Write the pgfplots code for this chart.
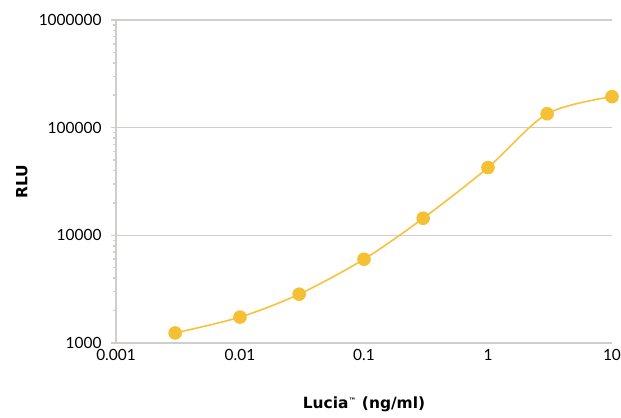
\documentclass[border=0pt]{standalone}
\usepackage{pgfplots}
\pgfplotsset{compat=1.18}
\usepackage{fontspec}
\setmainfont{Lato}
\newfontfamily\labelfont{DejaVu Sans}
\definecolor{dotc}{HTML}{F6C034}
\definecolor{linec}{HTML}{F7C23C}
\definecolor{gridc}{HTML}{D0CDCB}
\begin{document}
\begin{tikzpicture}
\useasboundingbox (-116bp,-75bp) rectangle (505bp,343bp);
\begin{axis}[
    xmode=log, ymode=log,
    scale only axis,
    width=496bp, height=323bp,
    xmin=0.001, xmax=10,
    ymin=1000, ymax=1000000,
    xtick={0.001,0.01,0.1,1,10},
    xticklabels={0.001,0.01,0.1,1,10},
    ytick={1000,10000,100000,1000000},
    yticklabels={1000,10000,100000,1000000},
    minor tick num=0,
    axis x line*=bottom, axis y line*=left,
    axis line style={gridc, line width=1.5pt, -},
    ymajorgrids=true,
    grid style={gridc, line width=1.5pt},
    major tick length=5bp,
    tick style={gridc, line width=1.5pt},
    xtick style={draw=none},
    ytick align=outside,
    tick label style={font=\fontsize{15.5}{17}\selectfont, black},
    yticklabel style={xshift=-6bp},
    xticklabel style={yshift=-3bp},
    xlabel={Lucia\textsuperscript{\scalebox{0.7}{\texttrademark}} (ng/ml)},
    ylabel={RLU},
    label style={font=\labelfont\bfseries\fontsize{15.5}{17}\selectfont},
    xlabel style={at={(axis description cs:0.5,-0.19)}, anchor=center},
    ylabel style={at={(axis description cs:-0.19,0.5)}, anchor=center},
    clip=false,
]
\addplot[color=linec, line width=1.6pt, smooth, tension=0.5,
    mark=*, mark size=6bp, mark options={fill=dotc, draw=dotc}]
    coordinates {
    (0.003,1240)(0.01,1740)(0.03,2840)(0.1,6000)(0.3,14400)(1,42600)(3,134600)(10,194000)
    };
\end{axis}
\end{tikzpicture}
\end{document}
